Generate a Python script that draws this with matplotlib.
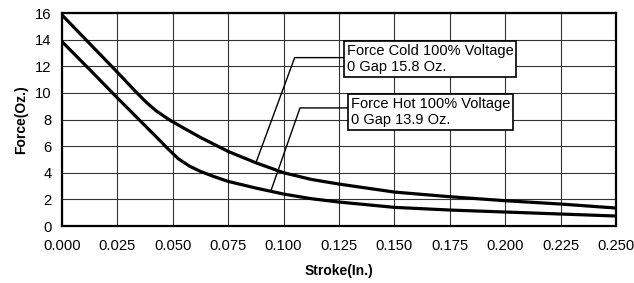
import numpy as np
import matplotlib
matplotlib.use("Agg")
import matplotlib.pyplot as plt

plt.rcParams['font.family'] = ['Liberation Sans', 'DejaVu Sans']

# values
stroke_cold = [0.0, 0.0125, 0.025, 0.0335, 0.038, 0.0425, 0.0487, 0.055, 0.0625, 0.075,
               0.0875, 0.1, 0.1125, 0.125, 0.15, 0.175, 0.2, 0.225, 0.25]
force_cold = [15.85, 13.7, 11.55, 10.05, 9.3, 8.65, 7.95, 7.35, 6.65, 5.6,
              4.75, 4.0, 3.5, 3.15, 2.55, 2.2, 1.9, 1.65, 1.35]

stroke_hot = [0.0, 0.0125, 0.025, 0.035, 0.0425, 0.0475, 0.0525, 0.0575, 0.0625,
              0.0688, 0.075, 0.0875, 0.1, 0.1125, 0.125, 0.15, 0.175, 0.2, 0.225, 0.25]
force_hot = [13.85, 11.75, 9.62, 7.95, 6.7, 5.85, 5.05, 4.5, 4.1,
             3.7, 3.35, 2.85, 2.4, 2.05, 1.8, 1.4, 1.2, 1.05, 0.9, 0.75]

x_ticks = [0.0, 0.025, 0.05, 0.075, 0.1, 0.125, 0.15, 0.175, 0.2, 0.225, 0.25]
y_ticks = [0, 2, 4, 6, 8, 10, 12, 14, 16]

label_cold = "Force Cold 100% Voltage\n0 Gap 15.8 Oz."
label_hot = "Force Hot 100% Voltage\n0 Gap 13.9 Oz."

fig = plt.figure(figsize=(6.34, 2.83), dpi=100)
ax = fig.add_axes([0.0978, 0.2014, 0.8738, 0.7526])

ax.plot(stroke_cold, force_cold, color='black', lw=2.3, zorder=3)
ax.plot(stroke_hot, force_hot, color='black', lw=2.3, zorder=3)

ax.set_xlim(0, 0.25)
ax.set_ylim(0, 16)
ax.set_xticks(x_ticks)
ax.set_yticks(y_ticks)
ax.set_xticklabels([f"{t:.3f}" for t in x_ticks])
ax.grid(True, color='#333333', lw=0.8)
ax.set_axisbelow(True)
ax.tick_params(length=0, labelsize=10.6)
ax.tick_params(axis='x', pad=9)
ax.tick_params(axis='y', pad=7.5)
for s in ax.spines.values():
    s.set_linewidth(1.6)
    s.set_color('black')

ax.set_xlabel("Stroke(In.)", fontsize=10, fontweight='bold', labelpad=8)
ax.set_ylabel("Force(Oz.)", fontsize=10, fontweight='bold', labelpad=5)

# leader lines from the curves up to the label boxes
cold_x = 0.0875
hot_x = 0.0942
cold_y = np.interp(cold_x, stroke_cold, force_cold)
hot_y = np.interp(hot_x, stroke_hot, force_hot)
ax.plot([cold_x, 0.105, 0.1273], [cold_y, 12.65, 12.65], color='black', lw=1.0, zorder=4)
ax.plot([hot_x, 0.1074, 0.129], [hot_y, 8.87, 8.87], color='black', lw=1.0, zorder=4)

box = dict(boxstyle='square,pad=0.2', fc='white', ec='black', lw=1.2)
ax.text(0.1285, 13.7, label_cold, fontsize=10.5, va='top', ha='left', bbox=box, zorder=5)
ax.text(0.1302, 9.72, label_hot, fontsize=10.5, va='top', ha='left', bbox=box, zorder=5)

fig.savefig("out.png", dpi=100)
